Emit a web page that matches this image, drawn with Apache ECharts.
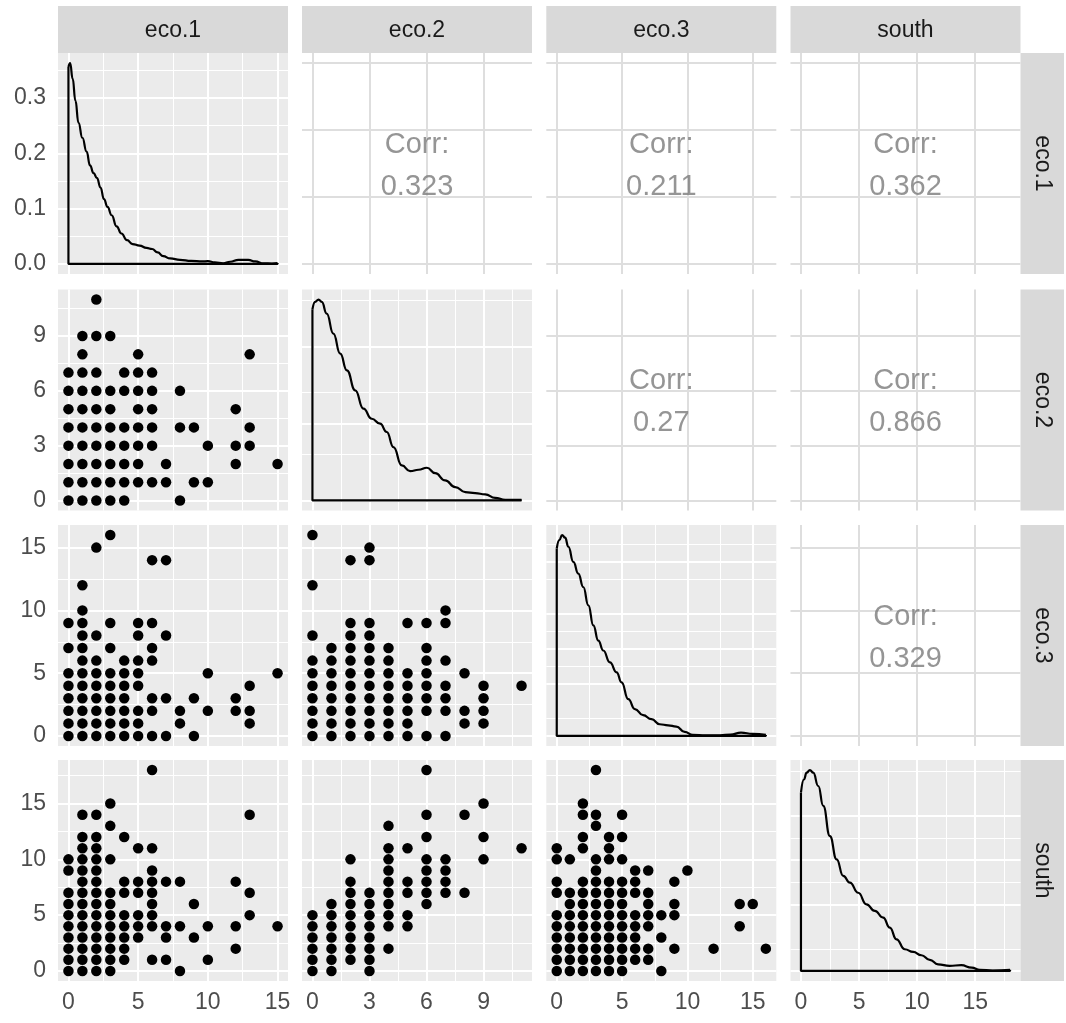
<!DOCTYPE html>
<html>
<head>
<meta charset="utf-8">
<script src="https://cdn.jsdelivr.net/npm/echarts@6/dist/echarts.min.js"></script>
<style>
html, body { margin: 0; padding: 0; background: #ffffff; }
#chart { width: 1066px; height: 1023px; }
</style>
</head>
<body>
<div id="chart"></div>
<script>
// ---- variables of the pairs matrix ----
const variables = ['eco.1', 'eco.2', 'eco.3', 'south'];
const variableMax = [15, 11, 16, 18];
const variableBreaks = [[0, 5, 10, 15], [0, 3, 6, 9], [0, 5, 10, 15], [0, 5, 10, 15]];

// ---- kernel density estimates on the diagonal: [value, density] ----
const densityEco1 = [[0,0.356],[0.12,0.363],[0.3,0.335],[0.5,0.295],[0.72,0.255],[1.0,0.228],[1.3,0.203],[1.55,0.178],[1.8,0.164],[2.05,0.155],[2.3,0.138],[2.55,0.117],[2.8,0.103],[3.1,0.088],[3.45,0.068],[3.8,0.055],[4.2,0.043],[4.6,0.036],[5.1,0.033],[5.6,0.029],[6.0,0.027],[6.4,0.021],[6.8,0.014],[7.3,0.010],[8.0,0.0075],[8.8,0.0055],[9.6,0.0045],[10.0,0.005],[10.5,0.003],[11.1,0.0012],[11.6,0.004],[12.2,0.0075],[12.9,0.0075],[13.4,0.0045],[14.0,0.001],[14.6,0.0008],[15,0.0016]];
const densityEco2 = [[0,0.124],[0.14,0.1288],[0.32,0.1303],[0.49,0.1288],[0.75,0.1212],[1.1,0.1082],[1.46,0.0952],[1.81,0.0844],[2.25,0.0714],[2.68,0.0595],[3.12,0.053],[3.56,0.0498],[3.91,0.0444],[4.26,0.0346],[4.7,0.0227],[5.14,0.019],[5.58,0.0199],[6.02,0.0212],[6.46,0.0177],[6.98,0.013],[7.51,0.0087],[8.04,0.0054],[8.56,0.0048],[9.09,0.0039],[9.61,0.0017],[10.14,0.0004],[11,0.0004]];
const densityEco3 = [[0,0.1075],[0.2,0.1123],[0.41,0.1152],[0.64,0.1137],[0.89,0.1085],[1.27,0.0998],[1.65,0.0931],[2.03,0.0854],[2.42,0.0749],[2.8,0.0634],[3.18,0.0547],[3.56,0.049],[4.07,0.0422],[4.58,0.0365],[4.96,0.0307],[5.47,0.0211],[5.98,0.0154],[6.61,0.0119],[7.25,0.0096],[7.88,0.0067],[8.52,0.0061],[9.15,0.0054],[9.79,0.0023],[10.4,0.0006],[11.4,0.0004],[12.5,0.0004],[13.3,0.0008],[14.1,0.0019],[15.0,0.0012],[16,0.0006]];
const densitySouth = [[0,0.0805],[0.26,0.0865],[0.49,0.0895],[0.77,0.0907],[1.06,0.0895],[1.49,0.0835],[1.92,0.0745],[2.49,0.0609],[3.07,0.0504],[3.64,0.0429],[4.21,0.0399],[4.93,0.0353],[5.64,0.0301],[6.36,0.0271],[7.08,0.0241],[7.65,0.0196],[8.22,0.0143],[8.94,0.0098],[9.66,0.0086],[10.37,0.0071],[11.09,0.005],[11.8,0.003],[12.8,0.0023],[13.8,0.0026],[14.7,0.0015],[15.4,0.0005],[16.5,0.0002],[18,0.0005]];
const densityBreaks = [[0, 0.1, 0.2, 0.3], [0, 0.05, 0.1], [0, 0.025, 0.05, 0.075, 0.1], [0, 0.025, 0.05, 0.075]];

// ---- scatter observations, grouped by y value: [y, [x values]] ----
const eco2VsEco1 = [[11,[2]],[9,[1,2,3]],[8,[1,5,13]],[7,[0,1,2,4,5,6]],[6,[0,1,2,3,4,5,6,8]],[5,[0,1,2,3,5,6,12]],[4,[0,1,2,3,4,5,6,8,9,13]],[3,[0,1,2,3,4,5,6,10,12,13]],[2,[0,1,2,3,4,5,7,12,15]],[1,[0,1,2,3,4,5,6,7,9,10]],[0,[0,1,2,3,4,8]]];
const eco3VsEco1 = [[16,[3]],[15,[2]],[14,[6,7]],[12,[1]],[10,[1]],[9,[0,1,3,5,6]],[8,[1,2,5,7]],[7,[0,1,3,6]],[6,[1,2,4,5,6]],[5,[0,1,2,3,4,5,10,15]],[4,[0,1,2,3,4,5,13]],[3,[0,1,2,3,4,6,7,9,12]],[2,[0,1,2,3,4,5,6,8,10,12,13]],[1,[0,1,2,3,4,5,8,13]],[0,[0,1,2,3,4,5,6,7,9]]];
const eco3VsEco2 = [[16,[0]],[15,[3]],[14,[2,3]],[12,[0]],[10,[7]],[9,[2,3,5,6,7]],[8,[0,2,3]],[7,[1,2,3,4,6]],[6,[0,1,2,3,4,6,7]],[5,[0,1,2,3,4,5,6,8]],[4,[0,1,2,3,4,5,6,7,9,11]],[3,[0,1,2,3,4,5,6,7,9]],[2,[0,1,2,3,4,5,6,7,8,9]],[1,[0,1,2,3,4,5,8,9]],[0,[0,1,2,3,4,5,6,7]]];
const southVsEco1 = [[18,[6]],[15,[3]],[14,[1,2,13]],[13,[3]],[12,[1,2,4]],[11,[1,2,5,6]],[10,[0,1,2,3]],[9,[0,1,2,6]],[8,[1,2,4,5,6,7,8,12]],[7,[0,1,2,3,4,5,6,13]],[6,[0,1,2,3,6,9]],[5,[0,1,2,3,4,5,6,13]],[4,[0,1,2,3,4,5,6,7,8,10,12,15]],[3,[0,1,2,3,4,5,7,9]],[2,[0,1,2,3,4,12]],[1,[0,1,2,3,4,6,7,10]],[0,[0,1,2,3,8]]];
const southVsEco2 = [[18,[6]],[15,[9]],[14,[6,8]],[13,[4]],[12,[6,9]],[11,[4,5,11]],[10,[2,4,6,7,9]],[9,[4,6,7]],[8,[2,4,5,6,7]],[7,[2,3,4,5,6,7,8]],[6,[1,2,3,4,6]],[5,[0,1,2,3,4,5]],[4,[0,1,2,3,4,5]],[3,[0,1,2,3]],[2,[0,1,2,3,4]],[1,[0,1,2,3]],[0,[0,1,3]]];
const southVsEco3 = [[18,[3]],[15,[2]],[14,[2,3,5]],[13,[3]],[12,[2,4,5]],[11,[0,2,4]],[10,[0,1,3,4,5]],[9,[3,6,7,10]],[8,[0,2,3,4,5,6,9]],[7,[0,1,2,3,4,5,6,7]],[6,[1,2,3,4,5,7,9,14,15]],[5,[0,1,2,3,4,5,6,7,8,9]],[4,[0,1,2,3,4,5,6,7,14]],[3,[0,1,2,3,4,5,6,8]],[2,[0,1,2,3,4,5,6,7,9,12,16]],[1,[0,1,2,3,4,5,6,7]],[0,[0,1,2,3,4,5,8]]];

// ---- Pearson correlations for the upper triangle ----
const corrEco1Eco2 = 0.323;
const corrEco1Eco3 = 0.211;
const corrEco1South = 0.362;
const corrEco2Eco3 = 0.27;
const corrEco2South = 0.866;
const corrEco3South = 0.329;

// ---- panel wiring ----
const densities = [densityEco1, densityEco2, densityEco3, densitySouth];
const scatterPanels = { '1-0': eco2VsEco1, '2-0': eco3VsEco1, '2-1': eco3VsEco2, '3-0': southVsEco1, '3-1': southVsEco2, '3-2': southVsEco3 };
const corrPanels = { '0-1': corrEco1Eco2, '0-2': corrEco1Eco3, '0-3': corrEco1South, '1-2': corrEco2Eco3, '1-3': corrEco2South, '2-3': corrEco3South };

// ---- layout ----
const FONT = '"Liberation Sans", Arial, sans-serif';
const colLeft = [58, 302, 546.3, 790.5];
const rowTop = [53, 289.5, 525, 760];
const panelW = 230;
const panelH = 221;
const stripTop = 6;
const stripRight = 1064;

function expandRange(maxVal) { return [-0.05 * maxVal, 1.05 * maxVal]; }
function minorBreaks(breaks, range) {
  const step = breaks[1] - breaks[0];
  const out = [];
  for (let v = breaks[0] - step / 2; v <= range[1] + 1e-9; v += step) {
    if (v >= range[0] && v <= range[1]) out.push(+v.toFixed(6));
  }
  return out;
}
function toPoints(rows) { return rows.flatMap(([y, xs]) => xs.map(x => [x, y])); }

const grids = [], xAxes = [], yAxes = [], series = [], graphics = [];

for (let r = 0; r < 4; r++) {
  for (let c = 0; c < 4; c++) {
    const g = r * 4 + c;
    const kind = r === c ? 'diag' : (r > c ? 'lower' : 'upper');
    const dens = densities[r];
    const yMaxVal = kind === 'diag' ? Math.max(...dens.map(p => p[1])) : variableMax[r];
    const xr = expandRange(variableMax[c]);
    const yr = expandRange(yMaxVal);
    const xb = variableBreaks[c];
    const yb = kind === 'diag' ? densityBreaks[r] : variableBreaks[r];

    grids.push({
      left: colLeft[c], top: rowTop[r], width: panelW, height: panelH,
      show: true, borderWidth: 0,
      backgroundColor: kind === 'upper' ? '#FFFFFF' : '#EBEBEB',
      containLabel: false, outerBoundsMode: 'none'
    });

    const isDensityAxis = kind === 'diag';
    xAxes.push({
      type: 'value', gridIndex: g, min: xr[0], max: xr[1],
      axisLine: { show: false }, splitLine: { show: false },
      axisTick: { show: r === 3, customValues: xb, length: 7, lineStyle: { color: '#333333', width: 2 } },
      axisLabel: { show: r === 3, customValues: xb, margin: 10, color: '#4D4D4D', fontSize: 23, fontFamily: FONT }
    });
    yAxes.push({
      type: 'value', gridIndex: g, min: yr[0], max: yr[1],
      axisLine: { show: false }, splitLine: { show: false },
      axisTick: { show: c === 0, customValues: yb, length: 7, lineStyle: { color: '#333333', width: 2 } },
      axisLabel: {
        show: c === 0, customValues: yb, margin: 12, color: '#4D4D4D', fontSize: 23, fontFamily: FONT,
        formatter: isDensityAxis ? (v => v.toFixed(1)) : (v => String(v))
      }
    });

    // panel grid lines, kept beneath the marks
    const lines = [];
    if (kind === 'upper') {
      xb.forEach(v => lines.push({ xAxis: v, lineStyle: { color: '#DEDEDE', width: 2 } }));
      yb.forEach(v => lines.push({ yAxis: v, lineStyle: { color: '#DEDEDE', width: 2 } }));
    } else {
      minorBreaks(xb, xr).forEach(v => lines.push({ xAxis: v, lineStyle: { color: '#FFFFFF', width: 1 } }));
      minorBreaks(yb, yr).forEach(v => lines.push({ yAxis: v, lineStyle: { color: '#FFFFFF', width: 1 } }));
      xb.forEach(v => lines.push({ xAxis: v, lineStyle: { color: '#FFFFFF', width: 2 } }));
      yb.forEach(v => lines.push({ yAxis: v, lineStyle: { color: '#FFFFFF', width: 2 } }));
    }
    series.push({
      type: 'line', xAxisIndex: g, yAxisIndex: g, data: [], silent: true, z: 1,
      markLine: {
        z: 1, silent: true, animation: false, symbol: ['none', 'none'],
        label: { show: false }, emphasis: { disabled: true },
        lineStyle: { type: 'solid' }, data: lines
      }
    });

    if (kind === 'diag') {
      const first = dens[0], last = dens[dens.length - 1];
      series.push({
        type: 'line', xAxisIndex: g, yAxisIndex: g, data: dens, z: 6, silent: true,
        smooth: 0.5, smoothMonotone: 'x', symbol: 'none', animation: false,
        lineStyle: { color: '#000000', width: 2.2, join: 'round' }
      });
      series.push({
        type: 'line', xAxisIndex: g, yAxisIndex: g, z: 6, silent: true,
        data: [[first[0], first[1]], [first[0], 0], [last[0], 0], [last[0], last[1]]],
        symbol: 'none', animation: false, lineStyle: { color: '#000000', width: 2.2 }
      });
    } else if (kind === 'lower') {
      series.push({
        type: 'scatter', xAxisIndex: g, yAxisIndex: g, z: 6, silent: true, animation: false,
        data: toPoints(scatterPanels[r + '-' + c]), symbolSize: 10.5,
        itemStyle: { color: '#000000', opacity: 1 }
      });
    } else {
      const val = corrPanels[r + '-' + c];
      series.push({
        type: 'scatter', xAxisIndex: g, yAxisIndex: g, z: 6, silent: true, animation: false,
        data: [[(xr[0] + xr[1]) / 2, (yr[0] + yr[1]) / 2]], symbolSize: 1,
        itemStyle: { color: 'rgba(0,0,0,0)' },
        label: {
          show: true, position: 'inside', offset: [0, 2], formatter: 'Corr:\n' + String(val),
          color: '#7A7A7A', fontSize: 29, lineHeight: 42, fontFamily: FONT
        }
      });
    }
  }
}

// facet strips: column names on top, row names on the right
for (let c = 0; c < 4; c++) {
  graphics.push({ type: 'rect', silent: true, z: 0, shape: { x: colLeft[c], y: stripTop, width: panelW, height: rowTop[0] - stripTop }, style: { fill: '#D9D9D9' } });
  graphics.push({ type: 'text', silent: true, z: 1, x: colLeft[c] + panelW / 2, y: (stripTop + rowTop[0]) / 2 + 1,
    style: { text: variables[c], fill: '#1A1A1A', fontSize: 23, fontFamily: FONT, align: 'center', verticalAlign: 'middle' } });
}
const stripLeft = colLeft[3] + panelW;
for (let r = 0; r < 4; r++) {
  graphics.push({ type: 'rect', silent: true, z: 0, shape: { x: stripLeft, y: rowTop[r], width: stripRight - stripLeft, height: panelH }, style: { fill: '#D9D9D9' } });
  graphics.push({ type: 'text', silent: true, z: 1, x: (stripLeft + stripRight) / 2, y: rowTop[r] + panelH / 2, rotation: -Math.PI / 2,
    style: { text: variables[r], fill: '#1A1A1A', fontSize: 23, fontFamily: FONT, align: 'center', verticalAlign: 'middle' } });
}

const chart = echarts.init(document.getElementById('chart'), null, { renderer: 'canvas' });
chart.setOption({
  backgroundColor: '#FFFFFF',
  animation: false,
  grid: grids,
  xAxis: xAxes,
  yAxis: yAxes,
  series: series,
  graphic: graphics
});
</script>
</body>
</html>
